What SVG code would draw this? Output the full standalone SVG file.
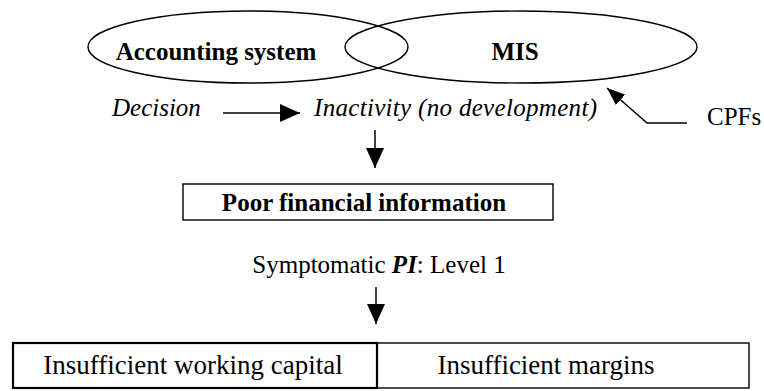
<svg xmlns="http://www.w3.org/2000/svg" width="764" height="391" viewBox="0 0 764 391">
<style>
.sh{fill:none;stroke:#000;stroke-width:1.4}
.ln{fill:none;stroke:#000;stroke-width:1.5}
text{font-family:'Liberation Serif','Times New Roman',serif;fill:#000}
.b{font-weight:bold}
.i{font-style:italic}
</style>
<defs>
<marker id="ah" markerUnits="userSpaceOnUse" markerWidth="20" markerHeight="18" refX="20" refY="9" orient="auto">
<path d="M0,0 L20,9 L0,18 z" fill="#000"/>
</marker>
<marker id="ahs" markerUnits="userSpaceOnUse" markerWidth="18" markerHeight="14" refX="18" refY="7" orient="auto">
<path d="M0,0 L18,7 L0,14 z" fill="#000"/>
</marker>
</defs>
<rect width="764" height="391" fill="#fff"/>
<g font-family="'Liberation Serif','Times New Roman',serif">
<g id="acc">
<ellipse class="sh" cx="248" cy="47" rx="160" ry="36"/>
<text class="b" x="216" y="60" font-size="25" text-anchor="middle" font-family="Liberation Serif, serif">Accounting system</text>
</g>
<g id="mis">
<ellipse class="sh" cx="521" cy="47" rx="176" ry="36"/>
<text class="b" x="515" y="60" font-size="25" text-anchor="middle" font-family="Liberation Serif, serif">MIS</text>
</g>
<g id="decision">
<text class="i" x="112" y="116" font-size="25" font-family="Liberation Serif, serif">Decision</text>
</g>
<g id="inactivity">
<text class="i" x="314" y="116" font-size="25" font-family="Liberation Serif, serif" textLength="283" lengthAdjust="spacing">Inactivity (no development)</text>
</g>
<g id="cpfs">
<text x="707" y="125" font-size="25" font-family="Liberation Serif, serif">CPFs</text>
</g>
<g id="poor">
<rect class="sh" x="183" y="184" width="370" height="36"/>
<text class="b" x="364" y="211" font-size="25" text-anchor="middle" font-family="Liberation Serif, serif">Poor financial information</text>
</g>
<g id="symptom">
<text x="379" y="273" font-size="25" text-anchor="middle" font-family="Liberation Serif, serif">Symptomatic <tspan class="b i">PI</tspan>: Level 1</text>
</g>
<g id="wc">
<rect x="13" y="343" width="364" height="45" fill="none" stroke="#000" stroke-width="2.2"/>
<text x="193" y="374" font-size="27" text-anchor="middle" font-family="Liberation Serif, serif">Insufficient working capital</text>
</g>
<g id="margins">
<rect class="sh" x="377" y="343" width="372" height="45"/>
<text x="546" y="374" font-size="27" text-anchor="middle" font-family="Liberation Serif, serif">Insufficient margins</text>
</g>
</g>
<g id="connectors">
<line class="ln" x1="223" y1="113" x2="300" y2="113" marker-end="url(#ah)"/>
<line class="ln" x1="375" y1="130" x2="375" y2="168" marker-end="url(#ah)"/>
<polyline class="ln" points="687,123 647,123 607,88" marker-end="url(#ahs)"/>
<line class="ln" x1="376" y1="287" x2="376" y2="324" marker-end="url(#ah)"/>
</g>
</svg>
